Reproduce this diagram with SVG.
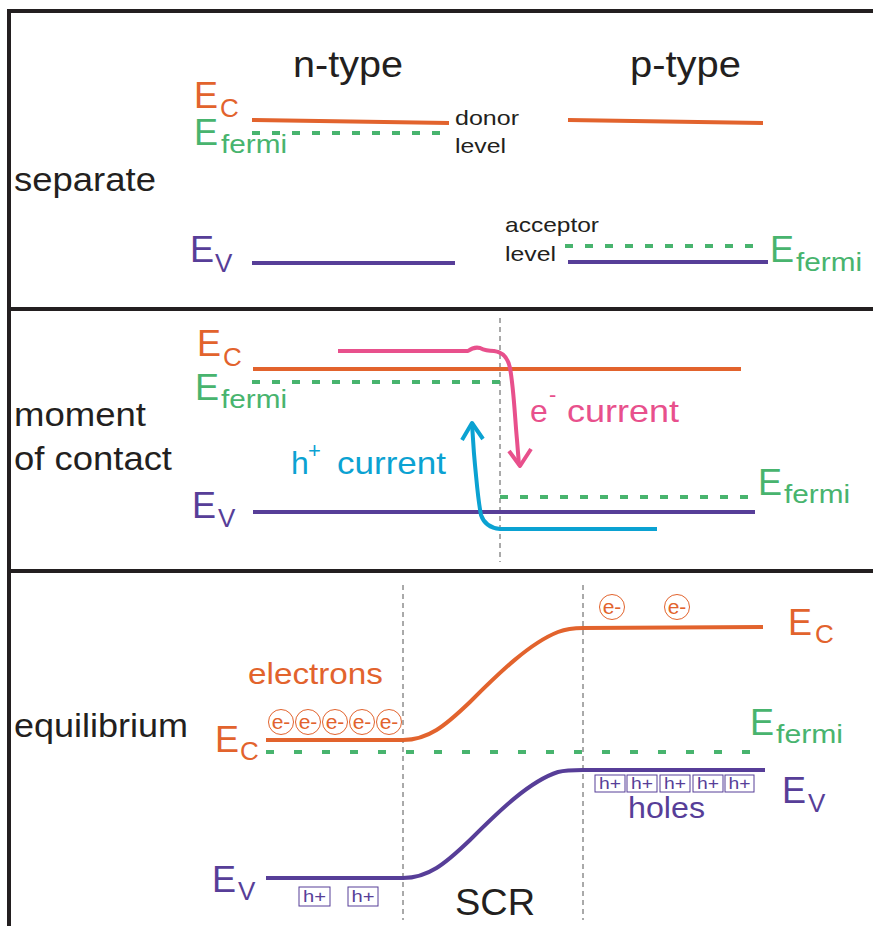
<svg xmlns="http://www.w3.org/2000/svg" width="873" height="926" viewBox="0 0 873 926">
<style>
text{font-family:"Liberation Sans",Arial,sans-serif}
.lbl{fill:#231f20;font-size:33px}
.big{fill:#231f20;font-size:37px}
.sm{fill:#231f20;font-size:21px}
.Eb{font-size:36px}
.sub{font-size:26px}
.or{fill:#e2632d}
.gr{fill:#48b46e}
.pu{fill:#573e98}
.pk{fill:#e8508c}
.bl{fill:#0ba2d2}
.lc{stroke:#e2632d;stroke-width:4;fill:none}
.lf{stroke:#48b46e;stroke-width:4;fill:none;stroke-dasharray:8 12}
.lf2{stroke:#48b46e;stroke-width:4;fill:none;stroke-dasharray:8 20}
.lv{stroke:#573e98;stroke-width:4;fill:none}
.vd{stroke:#555;stroke-width:1;fill:none;stroke-dasharray:5 4}
.frame{stroke:#231f20;stroke-width:4;fill:none}
.ecirc{stroke:#e2632d;stroke-width:1;fill:none}
.hbox{stroke:#573e98;stroke-width:1;fill:none}
.et{fill:#e2632d;font-size:21px;text-anchor:middle}
.ht{fill:#573e98;font-size:16px;text-anchor:middle}
</style>
<rect width="873" height="926" fill="#fff"/>
<g id="frame">
<path class="frame" d="M880,11 L9,11 L9,930"/>
<path class="frame" d="M9,309 L880,309"/>
<path class="frame" d="M9,571 L880,571"/>
</g>

<g id="panel-separate">
<text class="big" x="293" y="77" textLength="110" lengthAdjust="spacingAndGlyphs">n-type</text>
<text class="big" x="630" y="77" textLength="111" lengthAdjust="spacingAndGlyphs">p-type</text>
<text class="lbl" x="14" y="191" textLength="142" lengthAdjust="spacingAndGlyphs">separate</text>
<text class="Eb or" x="194" y="108">E</text><text class="sub or" x="220" y="117">C</text>
<text class="Eb gr" x="194" y="145">E</text><text class="sub gr" x="221" y="153" textLength="66" lengthAdjust="spacingAndGlyphs">fermi</text>
<text class="Eb pu" x="190" y="262">E</text><text class="sub pu" x="215" y="272">V</text>
<text class="Eb gr" x="770" y="262">E</text><text class="sub gr" x="796" y="271" textLength="66" lengthAdjust="spacingAndGlyphs">fermi</text>
<text class="sm" x="455" y="125" textLength="64" lengthAdjust="spacingAndGlyphs">donor</text>
<text class="sm" x="455" y="153" textLength="51" lengthAdjust="spacingAndGlyphs">level</text>
<text class="sm" x="505" y="232" textLength="94" lengthAdjust="spacingAndGlyphs">acceptor</text>
<text class="sm" x="505" y="261" textLength="51" lengthAdjust="spacingAndGlyphs">level</text>
<path class="lc" d="M252,120 L449,123"/>
<path class="lf" d="M252,133 L451,133"/>
<path class="lv" d="M252,263 L455,263"/>
<path class="lc" d="M568,120 L763,123"/>
<path class="lf" d="M565,246 L765,246"/>
<path class="lv" d="M568,262 L768,262"/>
</g>

<g id="panel-contact">
<text class="lbl" x="14" y="426" textLength="132" lengthAdjust="spacingAndGlyphs">moment</text>
<text class="lbl" x="14" y="470" textLength="158" lengthAdjust="spacingAndGlyphs">of contact</text>
<text class="Eb or" x="197" y="356">E</text><text class="sub or" x="223" y="366">C</text>
<text class="Eb gr" x="195" y="400">E</text><text class="sub gr" x="221" y="408" textLength="66" lengthAdjust="spacingAndGlyphs">fermi</text>
<text class="Eb pu" x="192" y="518">E</text><text class="sub pu" x="218" y="527">V</text>
<text class="Eb gr" x="758" y="495">E</text><text class="sub gr" x="784" y="503" textLength="66" lengthAdjust="spacingAndGlyphs">fermi</text>
<path class="vd" d="M500,318 L500,562"/>
<path class="lc" d="M253,369 L741,369"/>
<path class="lf" d="M252,382 L500,382"/>
<path class="lf" d="M500,497 L750,497"/>
<path class="lv" d="M253,512 L755,512"/>
<g id="e-current">
<path d="M338,351 L468,351 C472,348 476,347 480,348 C484,350 488,351 494,351 C502,352 508,358 510,368 C514,390 515,420 517,440 L519,465" stroke="#e8508c" stroke-width="4" fill="none" stroke-linejoin="round"/>
<path d="M509,451 L520,466 L531,449" stroke="#e8508c" stroke-width="4" fill="none" stroke-linejoin="round"/>
<text class="pk" x="530" y="422" font-size="32">e</text>
<text class="pk" x="549" y="402" font-size="22">-</text>
<text class="pk" x="567" y="422" font-size="32" textLength="112" lengthAdjust="spacingAndGlyphs">current</text>
</g>
<g id="h-current">
<path d="M657,529 L500,529 C490,528 484,524 481,515 C478,500 477,485 475,465 C473,445 473,435 472,425" stroke="#0ba2d2" stroke-width="4" fill="none" stroke-linejoin="round"/>
<path d="M462,440 L472,423 L483,439" stroke="#0ba2d2" stroke-width="4" fill="none" stroke-linejoin="round"/>
<text class="bl" x="291" y="474" font-size="32">h</text>
<text class="bl" x="308" y="458" font-size="22">+</text>
<text class="bl" x="337" y="474" font-size="32" textLength="109" lengthAdjust="spacingAndGlyphs">current</text>
</g>
</g>

<g id="panel-equilibrium">
<text class="lbl" x="14" y="737" textLength="174" lengthAdjust="spacingAndGlyphs">equilibrium</text>
<path class="vd" d="M403,585 L403,920"/>
<path class="vd" d="M583,585 L583,920"/>
<text class="or" x="248" y="684" font-size="29" textLength="135" lengthAdjust="spacingAndGlyphs">electrons</text>
<text class="pu" x="628" y="818" font-size="30" textLength="77" lengthAdjust="spacingAndGlyphs">holes</text>
<text class="big" x="455" y="915" textLength="80" lengthAdjust="spacingAndGlyphs">SCR</text>
<text class="Eb or" x="215" y="752">E</text><text class="sub or" x="240" y="760">C</text>
<text class="Eb or" x="788" y="635">E</text><text class="sub or" x="815" y="643">C</text>
<text class="Eb gr" x="750" y="735">E</text><text class="sub gr" x="776" y="743" textLength="67" lengthAdjust="spacingAndGlyphs">fermi</text>
<text class="Eb pu" x="782" y="803">E</text><text class="sub pu" x="808" y="812">V</text>
<text class="Eb pu" x="212" y="892">E</text><text class="sub pu" x="238" y="900">V</text>
<path class="lc" d="M266,740 L403,740 C428,740 445,726 470,702 C500,672 530,643 558,632 C566,629 572,628 583,628 L763,627"/>
<path class="lf2" d="M266,752 L750,752"/>
<path class="lv" d="M266,878 L403,878 C428,878 445,864 470,840 C500,810 530,781 558,772 C566,770 572,770 583,770 L765,770"/>
<g id="electrons-n">
<circle class="ecirc" cx="281" cy="722" r="12.5"/><text class="et" x="281" y="729">e-</text>
<circle class="ecirc" cx="308" cy="722" r="12.5"/><text class="et" x="308" y="729">e-</text>
<circle class="ecirc" cx="335" cy="722" r="12.5"/><text class="et" x="335" y="729">e-</text>
<circle class="ecirc" cx="362" cy="722" r="12.5"/><text class="et" x="362" y="729">e-</text>
<circle class="ecirc" cx="389" cy="722" r="12.5"/><text class="et" x="389" y="729">e-</text>
</g>
<g id="electrons-p">
<circle class="ecirc" cx="612" cy="607" r="12.5"/><text class="et" x="612" y="614">e-</text>
<circle class="ecirc" cx="677" cy="607" r="12.5"/><text class="et" x="677" y="614">e-</text>
</g>
<g id="holes-p">
<rect class="hbox" x="595" y="775" width="30" height="17"/><text class="ht" x="610" y="789" textLength="22" lengthAdjust="spacingAndGlyphs">h+</text>
<rect class="hbox" x="627" y="775" width="30" height="17"/><text class="ht" x="642" y="789" textLength="22" lengthAdjust="spacingAndGlyphs">h+</text>
<rect class="hbox" x="660" y="775" width="30" height="17"/><text class="ht" x="675" y="789" textLength="22" lengthAdjust="spacingAndGlyphs">h+</text>
<rect class="hbox" x="693" y="775" width="30" height="17"/><text class="ht" x="708" y="789" textLength="22" lengthAdjust="spacingAndGlyphs">h+</text>
<rect class="hbox" x="725" y="775" width="29" height="17"/><text class="ht" x="739.5" y="789" textLength="22" lengthAdjust="spacingAndGlyphs">h+</text>
</g>
<g id="holes-n">
<rect class="hbox" x="299" y="887" width="31" height="19"/><text class="ht" x="314.5" y="902" textLength="23" lengthAdjust="spacingAndGlyphs">h+</text>
<rect class="hbox" x="348" y="887" width="30" height="19"/><text class="ht" x="363" y="902" textLength="23" lengthAdjust="spacingAndGlyphs">h+</text>
</g>
</g>
</svg>
